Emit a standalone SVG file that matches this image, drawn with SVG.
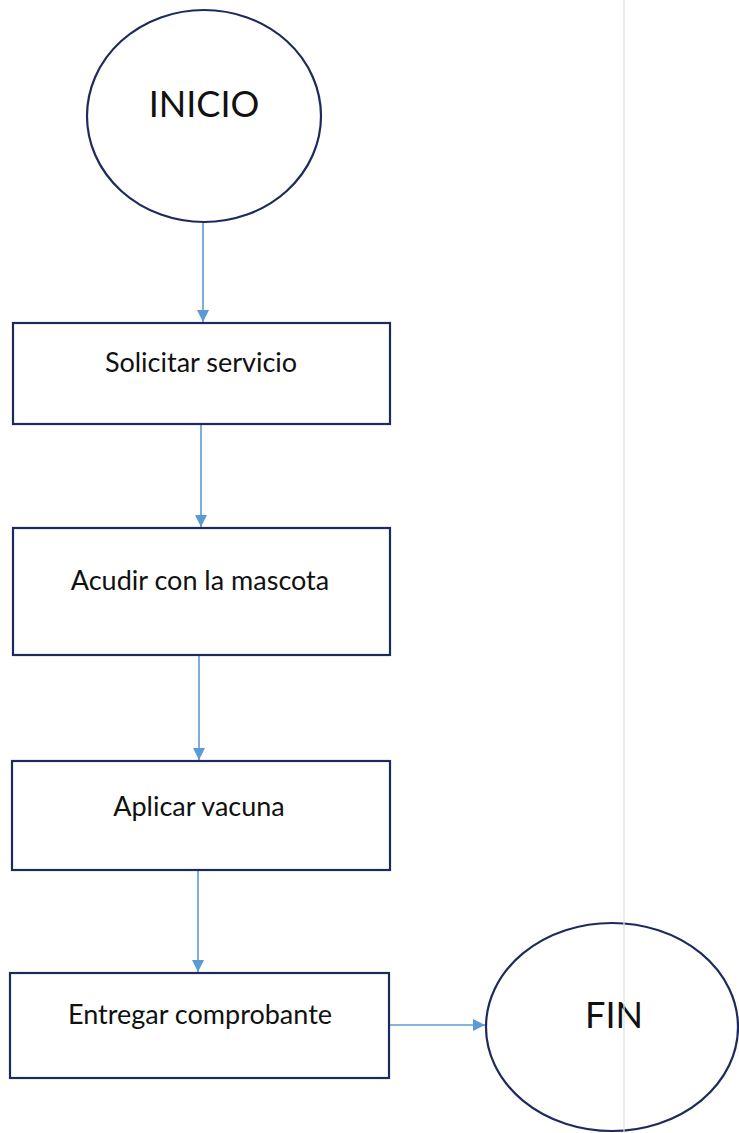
<svg xmlns="http://www.w3.org/2000/svg" width="739" height="1133" viewBox="0 0 739 1133">
<style>
.shape{fill:#fff;stroke:#1f2a5c;stroke-width:2.2}
.lbl{font-family:Lato,"Liberation Sans",sans-serif;fill:#111;text-anchor:middle}
.big{font-size:36px}
.small{font-size:27px}
.conn{stroke:#5b9bd5;stroke-width:1.6;fill:none;marker-end:url(#arr)}
</style>
<defs>
<marker id="arr" viewBox="0 0 10 10" refX="10" refY="5" markerWidth="12" markerHeight="12" markerUnits="userSpaceOnUse" orient="auto">
<path d="M0,0 L10,5 L0,10 Z" fill="#5b9bd5"/>
</marker>
</defs>
<rect width="739" height="1133" fill="#fff"/>
<g id="connectors">
<line class="conn" x1="203" y1="223" x2="203" y2="322"/>
<line class="conn" x1="201" y1="425" x2="201" y2="527"/>
<line class="conn" x1="199" y1="656" x2="199" y2="760"/>
<line class="conn" x1="198" y1="871" x2="198" y2="972"/>
<line class="conn" x1="390" y1="1025" x2="485" y2="1025"/>
</g>
<g id="inicio">
<ellipse class="shape" cx="204" cy="116" rx="117" ry="106"/>
<text class="lbl big" x="204" y="117">INICIO</text>
</g>
<g id="solicitar">
<rect class="shape" x="13" y="323" width="377" height="101"/>
<text class="lbl small" x="201" y="372">Solicitar servicio</text>
</g>
<g id="acudir">
<rect class="shape" x="13" y="528" width="377" height="127"/>
<text class="lbl small" x="200" y="590">Acudir con la mascota</text>
</g>
<g id="aplicar">
<rect class="shape" x="12" y="761" width="378" height="109"/>
<text class="lbl small" x="199" y="816">Aplicar vacuna</text>
</g>
<g id="entregar">
<rect class="shape" x="10" y="973" width="379" height="105"/>
<text class="lbl small" x="200" y="1024">Entregar comprobante</text>
</g>
<g id="fin">
<ellipse class="shape" cx="612" cy="1027" rx="126" ry="104"/>
<text class="lbl big" x="614" y="1028">FIN</text>
</g>
<line x1="624" y1="0" x2="624" y2="1133" stroke="#e0e0e0" stroke-width="1.2"/>
</svg>
